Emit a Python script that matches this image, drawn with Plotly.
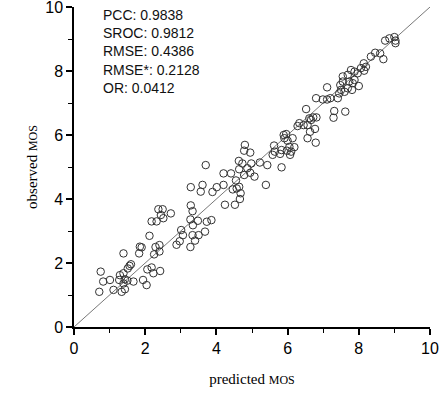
import plotly.graph_objects as go

predicted = [
    0.71, 0.75, 0.82, 1.01, 1.11, 1.27, 1.29, 1.34, 1.39, 1.39, 1.43, 1.43, 1.50, 1.51, 1.56, 1.60, 1.67,
    1.39, 1.83, 1.85, 1.90, 1.94, 2.04, 2.06, 2.18, 2.23, 2.12,
    2.25, 2.29, 2.40, 2.40, 2.42,
    2.18, 2.32, 2.37, 2.49, 2.44, 2.51, 2.72,
    2.88, 2.97, 3.01, 3.06, 3.27, 3.40, 3.33, 3.50, 3.68,
    3.27, 3.48, 3.34, 3.73, 3.86, 3.28, 3.33,
    3.28, 3.56, 3.61, 3.70, 3.89, 4.01, 4.20, 4.20, 4.41, 4.24, 4.52,
    4.46, 4.57, 4.64, 4.68, 4.66, 4.55,
    4.64, 4.63, 4.73, 4.87, 4.98, 5.22, 5.43, 5.07, 4.78, 4.95, 4.80, 4.78, 4.95, 5.39,
    5.62, 5.64, 5.58, 5.79, 5.83, 5.98, 6.10, 6.05, 6.19, 5.89, 5.96, 5.91, 6.00, 6.14, 5.83, 6.07,
    6.28, 6.33, 6.45, 6.56, 6.77, 6.63, 6.56, 6.79, 6.52, 6.61, 6.72, 6.81, 6.66,
    6.80, 6.99, 7.11, 7.20, 7.11, 7.31, 7.29, 7.62,
    7.41, 7.50, 7.48, 7.55, 7.60, 7.69, 7.55, 7.69, 7.78, 7.88, 7.97, 8.00, 7.81, 7.73, 7.88,
    8.06, 8.14, 8.20, 8.15, 7.45, 7.83,
    8.34, 8.46, 8.60, 8.69,
    8.74, 8.86, 9.00, 9.03, 9.03,
]
observed = [
    1.10, 1.73, 1.42, 1.47, 1.16, 1.47, 1.62, 1.10, 1.68, 1.36, 1.18, 1.49, 1.45, 1.83, 1.91, 1.96, 1.42,
    2.30, 2.30, 2.51, 2.49, 1.47, 1.31, 1.80, 1.86, 1.68, 2.85,
    2.27, 2.50, 2.56, 2.36, 1.75,
    3.30, 3.30, 3.68, 3.68, 3.50, 3.40, 3.55,
    2.57, 2.68, 3.03, 2.87, 2.50, 2.70, 2.87, 2.87, 2.98,
    3.36, 3.32, 3.18, 3.29, 3.34, 3.80, 3.62,
    4.37, 4.23, 4.44, 5.06, 4.22, 4.37, 4.44, 4.80, 4.80, 3.82, 3.82,
    4.30, 4.33, 4.38, 4.18, 4.00, 4.58,
    4.93, 5.19, 5.11, 4.96, 5.11, 5.14, 5.06, 4.70, 4.75, 4.82, 5.69, 5.51, 5.45, 4.44,
    5.67, 5.48, 5.38, 5.41, 5.53, 5.51, 5.48, 5.63, 5.62, 6.00, 6.03, 5.90, 5.82, 5.90, 4.99, 5.38,
    6.28, 6.37, 6.31, 6.31, 6.19, 6.10, 5.90, 5.76, 6.81, 6.52, 6.55, 6.55, 6.47,
    7.15, 7.11, 7.11, 7.15, 7.49, 6.75, 6.54, 6.73,
    7.15, 7.41, 7.56, 7.67, 7.35, 7.46, 7.83, 7.88, 8.03, 7.98, 7.93, 7.53, 7.41, 7.67, 7.72,
    8.09, 8.24, 8.13, 8.01, 7.30, 7.62,
    8.45, 8.57, 8.55, 8.37,
    8.95, 9.02, 9.06, 8.95, 8.87,
]

stats_labels = ["PCC", "SROC", "RMSE", "RMSE*", "OR"]
stats_values = ["0.9838", "0.9812", "0.4386", "0.2128", "0.0412"]

axis_range = [0, 10]

plot_l, plot_r, plot_t, plot_b = 74, 430, 7, 327

fig = go.Figure()
fig.add_trace(go.Scatter(
    x=axis_range, y=axis_range, mode="lines",
    line=dict(color="#555555", width=0.8), showlegend=False, hoverinfo="skip",
    cliponaxis=False,
))
fig.add_trace(go.Scatter(
    x=predicted, y=observed, mode="markers",
    marker=dict(symbol="circle-open", size=7.5, color="#333333", line=dict(width=1, color="#333333")),
    showlegend=False,
))

stats_text = "<br>".join(f"{l}: {v}" for l, v in zip(stats_labels, stats_values))
fig.add_annotation(
    x=(101 - plot_l) / (plot_r - plot_l), y=1 - (5 - plot_t) / (plot_b - plot_t),
    xref="paper", yref="paper", text=stats_text, showarrow=False,
    xanchor="left", yanchor="top", align="left",
    font=dict(family="Arial, Liberation Sans", size=14, color="#111111"),
)

axis_common = dict(
    range=axis_range, dtick=2, tick0=0, showgrid=False, zeroline=False,
    showline=True, linecolor="black", linewidth=1.5,
    ticks="outside", ticklen=6, tickwidth=1.5, tickcolor="black",
    tickfont=dict(family="Arial, Liberation Sans", size=16, color="black"),
    minor=dict(dtick=1, tick0=0, ticks="outside", ticklen=4, tickwidth=1.2, tickcolor="black", showgrid=False),
    mirror=False, automargin=False, ticklabeloverflow="allow",
)

fig.update_layout(
    width=443, height=398,
    margin=dict(l=plot_l, r=443 - plot_r, t=plot_t, b=398 - plot_b, autoexpand=False),
    paper_bgcolor="white", plot_bgcolor="white",
    xaxis=dict(**axis_common,
               title=dict(text="predicted <span style='font-size:12px'>MOS</span>",
                          font=dict(family="Liberation Serif, Times New Roman", size=15, color="black"),
                          standoff=18)),
    yaxis=dict(**axis_common,
               title=dict(text="observed <span style='font-size:12px'>MOS</span>",
                          font=dict(family="Liberation Serif, Times New Roman", size=15, color="black"),
                          standoff=4)),
)

fig.write_html("out.html", config={"displayModeBar": False},
               post_script="document.body.style.margin='0';document.body.style.overflow='hidden';")
